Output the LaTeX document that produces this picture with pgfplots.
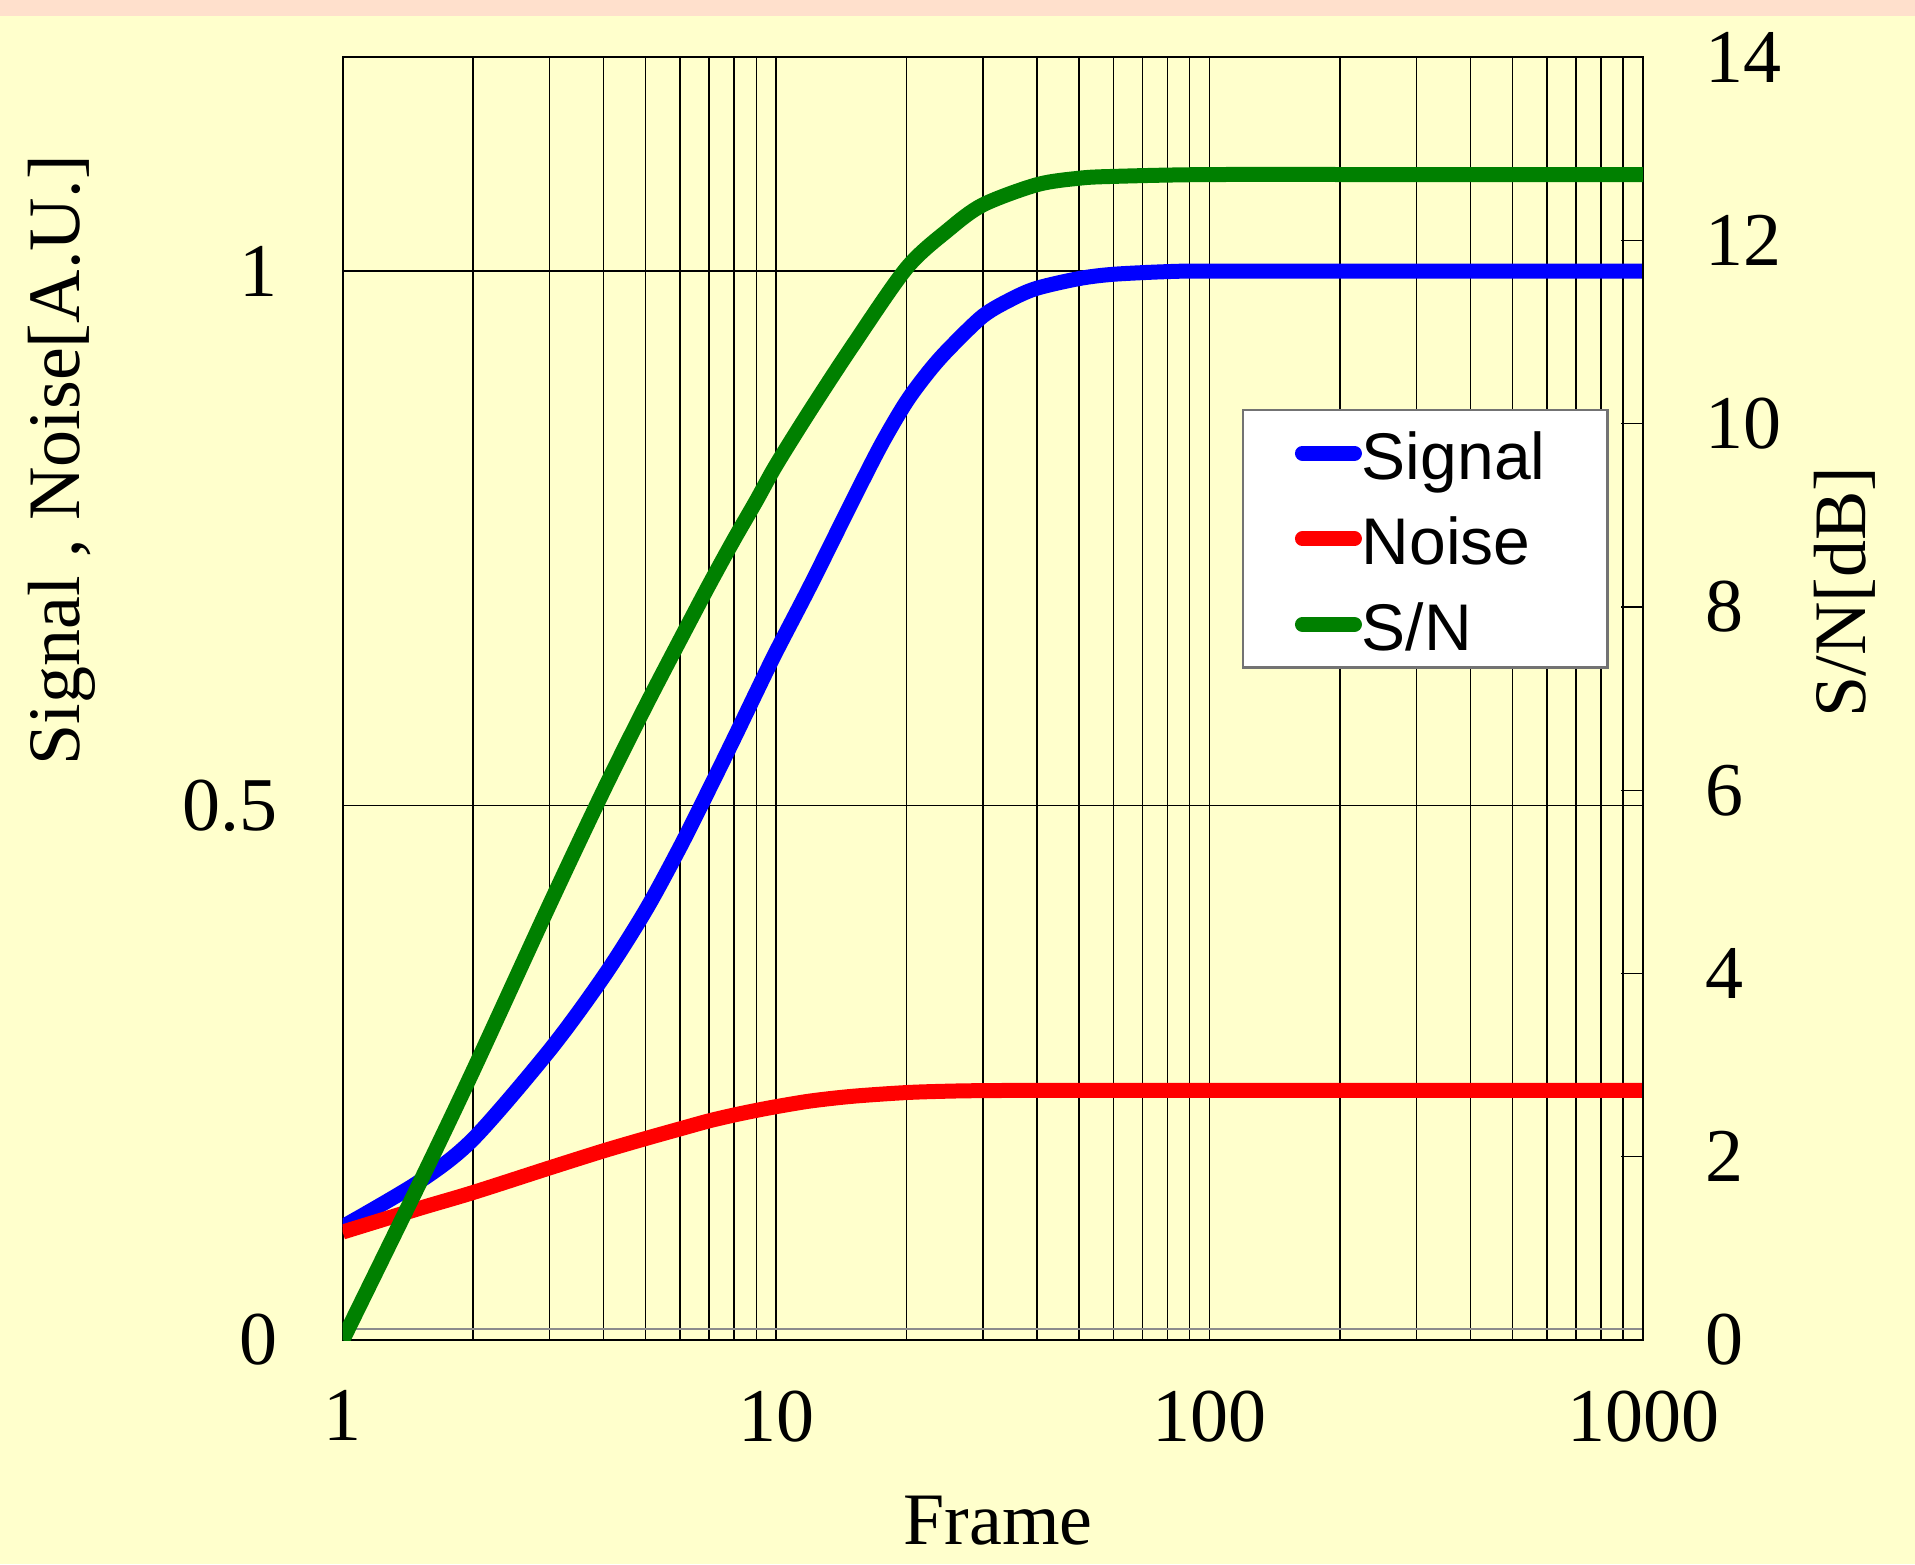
\documentclass[border=0pt]{standalone}
\usepackage{pgfplots}
\pgfplotsset{compat=1.18}
\usepackage{fontspec}
\setmainfont{Liberation Serif}
\newfontfamily\legfont{Liberation Sans}
\definecolor{bgyellow}{HTML}{FFFFCC}
\definecolor{bgpeach}{HTML}{FFE0CC}
\definecolor{sngreen}{HTML}{008000}

\pgfplotstableread{
x y
1 0.106
1.5 0.148
2 0.188
3 0.271
4 0.340
5 0.402
6 0.461
7 0.515
8 0.563
9 0.606
10 0.644
12 0.706
15 0.785
17.5 0.838
20 0.878
22.5 0.906
25 0.927
30 0.958
35 0.974
40 0.984
50 0.993
60 0.997
80 0.9995
100 1.0
300 1.0
1000 1.0
}\signaltab

\pgfplotstableread{
x y
1 0.101
1.5 0.123
2 0.138
3 0.161
4 0.177
5 0.1885
6 0.1975
7 0.205
8 0.2105
9 0.2148
10 0.2183
12 0.2236
15 0.2280
20 0.2315
25 0.2328
30 0.2333
40 0.2335
100 0.2335
1000 0.2335
}\noisetab

\pgfplotstableread{
x y
1 0
1.5 1.70
2 2.94
3 4.75
4 6.00
5 6.92
6 7.64
7 8.24
8 8.74
9 9.16
10 9.55
12 10.15
15 10.85
20 11.70
25 12.12
30 12.39
40 12.61
50 12.68
60 12.70
100 12.72
300 12.72
1000 12.72
}\sntab

\begin{document}
\begin{tikzpicture}
\fill[bgyellow] (0,0) rectangle (478.75pt,391pt);
\fill[bgpeach] (0,387pt) rectangle (478.75pt,391pt);
\begin{axis}[
  at={(85.675pt,56pt)}, anchor=south west, scale only axis,
  width=325.075pt, height=320.675pt,
  xmode=log, xmin=1, xmax=1000,
  ymin=0, ymax=1.2,
  tick label style={font=\fontsize{19}{19}\selectfont},
  label style={font=\fontsize{18.5}{18.5}\selectfont},
  xtick={1,10,100,1000}, xticklabels={1,10,100,1000},
  minor xtick={2,3,4,5,6,7,8,9,20,30,40,50,60,70,80,90,200,300,400,500,600,700,800,900},
  ytick={0,0.5,1}, yticklabels={0,0.5,1},
  extra y ticks={0.0103}, extra y tick labels={},
  extra y tick style={grid=major, major grid style={black!45, line width=0.45pt}},
  xmajorgrids, xminorgrids, ymajorgrids,
  minor grid style={black, line width=0.35pt},
  major grid style={black, line width=0.35pt},
  major tick length=0pt, minor tick length=0pt,
  axis line style={black, line width=0.45pt},
  xticklabel style={inner sep=0pt, yshift=-12.5pt, anchor=north},
  yticklabel style={inner sep=0pt, xshift=-16.2pt, anchor=east},
  xlabel={Frame}, ylabel={Signal , Noise[A.U.]},
  xlabel style={at={(axis description cs:0.504,-0.1598)}, anchor=base},
  ylabel style={at={(axis description cs:-0.2159,0.686)}, anchor=center},
  legend cell align=left,
  legend image code/.code={\draw[#1, line cap=round] (0pt,0pt) -- (13pt,0pt);},
  legend style={at={(axis description cs:0.6914,0.7258)}, anchor=north west,
    draw=black!55, fill=white, line width=0.6pt,
    font=\legfont\fontsize{16.5}{16.5}\selectfont,
    inner xsep=13pt, inner ysep=2.5pt, row sep=4.9pt, column sep=0pt,
    nodes={inner sep=0pt, text height=14.75pt, text depth=1.75pt}},
  /pgf/number format/assume math mode=true,
]
\addplot[blue, no marks, smooth, line width=3.75pt, line join=round] table[x=x,y=y] {\signaltab};
\addlegendentry{Signal\hspace*{2.5pt}}
\addplot[red, no marks, smooth, line width=3.75pt, line join=round] table[x=x,y=y] {\noisetab};
\addlegendentry{Noise}
\addlegendimage{sngreen, line width=3.75pt}
\addlegendentry{S/N}
\end{axis}
\begin{axis}[
  at={(85.675pt,56pt)}, anchor=south west, scale only axis,
  width=325.075pt, height=320.675pt,
  xmode=log, xmin=1, xmax=1000,
  ymin=0, ymax=14, ytick={0,2,4,6,8,10,12,14},
  tick label style={font=\fontsize{19}{19}\selectfont},
  label style={font=\fontsize{18.5}{18.5}\selectfont},
  axis x line=none, axis y line*=right,
  tick align=inside, major tick length=5.5pt,
  tick style={black, line width=0.35pt},
  axis line style={black, line width=0.45pt},
  yticklabel style={inner sep=0pt, xshift=15.4pt, anchor=west},
  ylabel={S/N[dB]},
  ylabel style={at={(axis description cs:1.1553,0.5831)}, anchor=center},
  /pgf/number format/assume math mode=true,
]
\addplot[sngreen, no marks, smooth, line width=3.75pt, line join=round] table[x=x,y=y] {\sntab};
\end{axis}
\end{tikzpicture}
\end{document}
